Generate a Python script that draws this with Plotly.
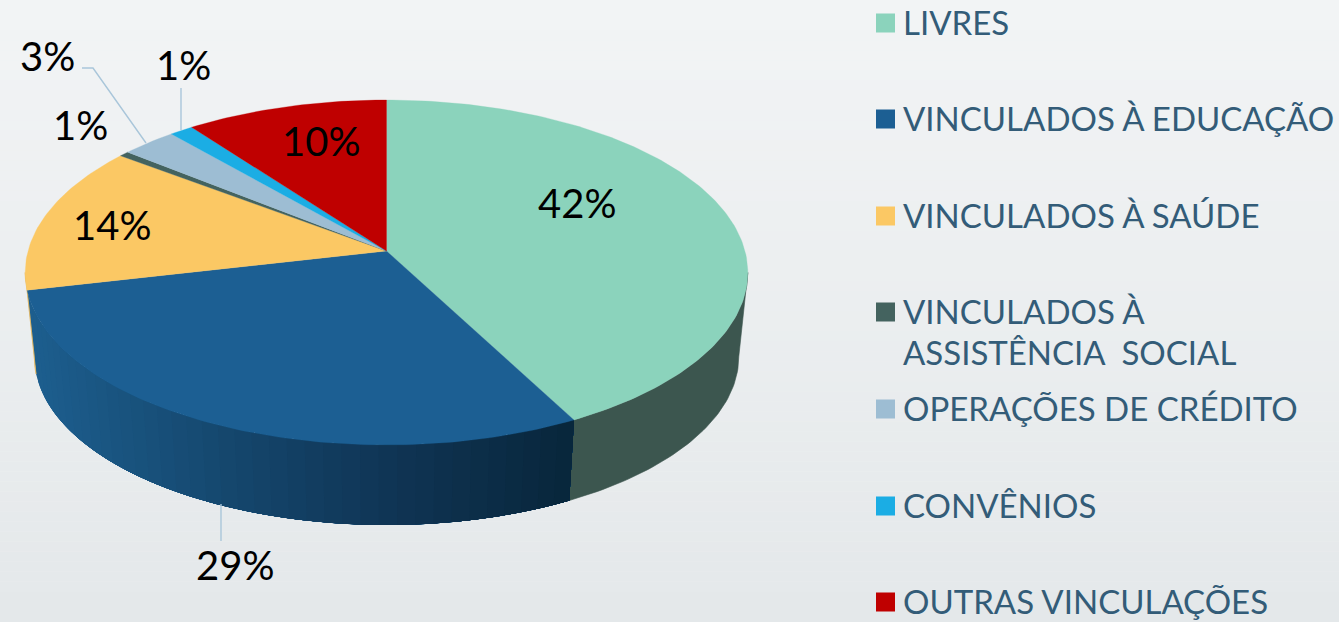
import math
import plotly.graph_objects as go

# ---- data ----
categories = ["LIVRES", "VINCULADOS À EDUCAÇÃO", "VINCULADOS À SAÚDE",
              "VINCULADOS À<br>ASSISTÊNCIA  SOCIAL", "OPERAÇÕES DE CRÉDITO",
              "CONVÊNIOS", "OUTRAS VINCULAÇÕES"]
shares = [42.3, 29.1, 13.9, 0.5, 2.8, 1.2, 10.2]
percent_labels = ["42%", "29%", "14%", "1%", "3%", "1%", "10%"]
colors = ["#8bd3bc", "#1c5f93", "#fbc864", "#44635f", "#9dbdd3", "#1badE4", "#bf0000"]
side_colors = ["#3c564f", None, "#e8b75a", "#36504c", "#7f99ab", "#1688b3", "#8f0000"]

# ---- layout helpers ----
W, H = 1339, 622
X0, Y0, RX, RY, P = 386.5, 251, 358.5, 169.8, 0.1246
VANISH_Y, DEPTH_SCALE = 3644, 0.975
label_xy = [(577, 203), (235, 565), (112, 225), (80, 125), (47, 56), (183, 65), (321, 141)]
leader_lines = [[(82, 68), (93, 68), (146, 143)], [(181, 88), (181, 130)], [(221, 504), (221, 541)]]
legend_y = [22, 118, 215, 311, 408, 505, 601]
LEGEND_LINE = 41
bg_top, bg_bottom = (242, 244, 245), (228, 232, 234)
blue_stops = [(33, (29, 95, 143)), (220, (21, 72, 111)), (400, (15, 52, 83)), (570, (8, 38, 59))]


def top_pt(deg):
    t = math.radians(deg)
    x, y = math.sin(t), math.cos(t)
    w = 1 + P * y
    return X0 + RX * x / w, Y0 - RY * y / w


def bottom_pt(deg):
    x, y = top_pt(deg)
    return X0 + (x - X0) * DEPTH_SCALE, VANISH_Y + (y - VANISH_Y) * DEPTH_SCALE


def arc(a, b, fn, step=1.0):
    n = max(2, int(abs(b - a) / step) + 1)
    return [fn(a + (b - a) * i / (n - 1)) for i in range(n)]


def poly(points, color, width=0.6):
    xs = [p[0] for p in points] + [points[0][0]]
    ys = [p[1] for p in points] + [points[0][1]]
    return go.Scatter(x=xs, y=ys, mode="lines", fill="toself", fillcolor=color,
                      line=dict(color=color, width=width), hoverinfo="skip", showlegend=False)


def blue_at(x):
    if x <= blue_stops[0][0]:
        c = blue_stops[0][1]
    elif x >= blue_stops[-1][0]:
        c = blue_stops[-1][1]
    else:
        for (x1, c1), (x2, c2) in zip(blue_stops, blue_stops[1:]):
            if x1 <= x <= x2:
                f = (x - x1) / (x2 - x1)
                c = tuple(c1[i] + (c2[i] - c1[i]) * f for i in range(3))
                break
    return "rgb(%d,%d,%d)" % tuple(round(v) for v in c)


fig = go.Figure()

# slice boundaries in degrees, clockwise from the top
total = sum(shares)
edges = [0.0]
for s in shares:
    edges.append(edges[-1] + s / total * 360)

# outer wall, between the two silhouette angles of the ellipse
SIDE_FROM = math.degrees(math.acos(-P))
SIDE_TO = 360 - SIDE_FROM
for i, c in enumerate(side_colors):
    a, b = max(edges[i], SIDE_FROM), min(edges[i + 1], SIDE_TO)
    if a >= b:
        continue
    if c is None:
        n = 40
        # painted from the dark end to the light end, each band overlapping the rest
        for k in range(n):
            a2 = b - (b - a) * k / n
            a1 = b - (b - a) * (k + 1) / n
            mid = bottom_pt((a1 + a2) / 2)[0]
            fig.add_trace(poly(arc(a, a2, top_pt) + arc(a2, a, bottom_pt), blue_at(mid), width=0))
    else:
        fig.add_trace(poly(arc(a, b, top_pt) + arc(b, a, bottom_pt), c))

# top face
for i, c in enumerate(colors):
    fig.add_trace(poly([(X0, Y0)] + arc(edges[i], edges[i + 1], top_pt), c, width=0.3))

# leader lines
for line in leader_lines:
    fig.add_trace(go.Scatter(x=[p[0] for p in line], y=[p[1] for p in line], mode="lines",
                             line=dict(color="#a9c6da", width=1.4),
                             hoverinfo="skip", showlegend=False))

# legend swatches
for name, c, y in zip(categories, colors, legend_y):
    fig.add_trace(go.Scatter(x=[885.5], y=[y + 1], mode="markers", name=name.replace("<br>", " "),
                             marker=dict(symbol="square", size=19, color=c, line=dict(width=0)),
                             hoverinfo="name", showlegend=False))

annotations = []
for text, (x, y) in zip(percent_labels, label_xy):
    annotations.append(dict(x=x, y=y, text=text, showarrow=False, xanchor="center", yanchor="middle",
                            font=dict(family="Lato", size=40, color="#000000")))
for name, y in zip(categories, legend_y):
    for j, part in enumerate(name.split("<br>")):
        annotations.append(dict(x=901, y=y + j * LEGEND_LINE, text=part, showarrow=False,
                                xanchor="left", yanchor="middle", align="left",
                                font=dict(family="Lato", size=33, color="#335c78")))

# background gradient
bands = 62
shapes = []
for i in range(bands):
    f = i / (bands - 1)
    col = "rgb(%d,%d,%d)" % tuple(round(bg_top[k] + (bg_bottom[k] - bg_top[k]) * f) for k in range(3))
    shapes.append(dict(type="rect", xref="paper", yref="paper", layer="below",
                       x0=0, x1=1, y0=1 - i / bands, y1=1 - (i + 1) / bands,
                       fillcolor=col, line=dict(width=0)))

fig.update_layout(width=W, height=H, margin=dict(l=0, r=0, t=0, b=0), autosize=False,
                  paper_bgcolor="#eef0f1", plot_bgcolor="rgba(0,0,0,0)", showlegend=False,
                  xaxis=dict(range=[0, W], visible=False, fixedrange=True),
                  yaxis=dict(range=[H, 0], visible=False, fixedrange=True),
                  shapes=shapes, annotations=annotations)

fig.write_html("out.html", config={"displayModeBar": False},
               post_script="document.body.style.margin='0';document.body.style.overflow='hidden';")
